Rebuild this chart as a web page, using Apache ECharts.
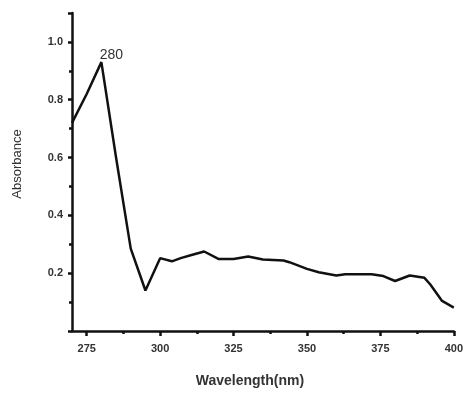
<!DOCTYPE html>
<html>
<head>
<meta charset="utf-8">
<script src="https://cdn.jsdelivr.net/npm/echarts@6/dist/echarts.min.js"></script>
<style>
  html, body { margin: 0; padding: 0; background: #fff; }
  #chart { width: 466px; height: 393px; }
</style>
</head>
<body>
<div id="chart"></div>
<script>
// absorbance spectrum
const wavelengths = [270, 275, 280, 285, 290, 295, 300, 304, 307, 311, 315, 320, 325, 330, 335, 342, 344, 350, 354, 360, 363, 372, 376, 380, 385, 390, 392, 396, 400]
const absorbance = [0.72, 0.82, 0.93, 0.60, 0.285, 0.14, 0.252, 0.241, 0.252, 0.264, 0.275, 0.249, 0.249, 0.258, 0.247, 0.244, 0.238, 0.215, 0.203, 0.192, 0.196, 0.196, 0.190, 0.173, 0.192, 0.184, 0.161, 0.104, 0.081]
const xMajorTicks = [275, 300, 325, 350, 375, 400]
const xMinorTicks = [287.5, 312.5, 337.5, 362.5, 387.5]
const peakLabel = '280'

const chart = echarts.init(document.getElementById('chart'))

const labelStyle = { color: '#333', fontFamily: 'Liberation Sans', fontSize: 11, fontWeight: 'bold' }
const axisLine = { show: true, lineStyle: { color: '#111', width: 2.5 } }

chart.setOption({
  animation: false,
  backgroundColor: '#fff',
  grid: { left: 72, right: 5, top: 13, bottom: 59 },
  xAxis: [
    {
      type: 'value',
      min: 270,
      max: 400,
      position: 'bottom',
      name: 'Wavelength(nm)',
      nameLocation: 'middle',
      nameGap: 43,
      nameTextStyle: { color: '#333', fontFamily: 'Liberation Sans', fontSize: 14, fontWeight: 'bold', padding: [0, 26, 0, 0] },
      axisLine,
      axisTick: { show: true, length: 5, customValues: xMajorTicks, lineStyle: { color: '#111', width: 2.5 } },
      axisLabel: { ...labelStyle, margin: 12, customValues: xMajorTicks },
      splitLine: { show: false },
    },
    {
      type: 'value',
      min: 270,
      max: 400,
      position: 'bottom',
      axisLine: { show: false },
      axisTick: { show: true, length: 3, customValues: xMinorTicks, lineStyle: { color: '#111', width: 2.5 } },
      axisLabel: { show: false },
      splitLine: { show: false },
    },
  ],
  yAxis: {
    type: 'value',
    min: 0,
    max: 1.1,
    interval: 0.2,
    name: 'Absorbance',
    nameLocation: 'middle',
    nameGap: 48,
    nameTextStyle: { color: '#333', fontFamily: 'Liberation Sans', fontSize: 13, padding: [0, 0, 0, 16] },
    axisLine,
    axisTick: { show: true, length: 4, lineStyle: { color: '#111', width: 2.5 } },
    minorTick: { show: true, splitNumber: 2, length: 3, lineStyle: { color: '#111', width: 2.5 } },
    axisLabel: {
      ...labelStyle,
      margin: 9,
      formatter: (v) => (v === 0 || v > 1.05 ? '' : v.toFixed(1)),
    },
    splitLine: { show: false },
  },
  series: [
    {
      type: 'line',
      xAxisIndex: 0,
      data: wavelengths.map((w, i) => {
        const item = { value: [w, absorbance[i]] }
        if (String(w) === peakLabel) {
          item.label = {
            show: true,
            formatter: peakLabel,
            position: 'top',
            distance: 0,
            offset: [10, 0],
            color: '#333',
            fontFamily: 'Liberation Sans',
            fontSize: 14,
          }
        }
        return item
      }),
      showSymbol: true,
      symbol: 'circle',
      symbolSize: 0,
      lineStyle: { color: '#111', width: 2.5 },
    },
  ],
})
</script>
</body>
</html>
